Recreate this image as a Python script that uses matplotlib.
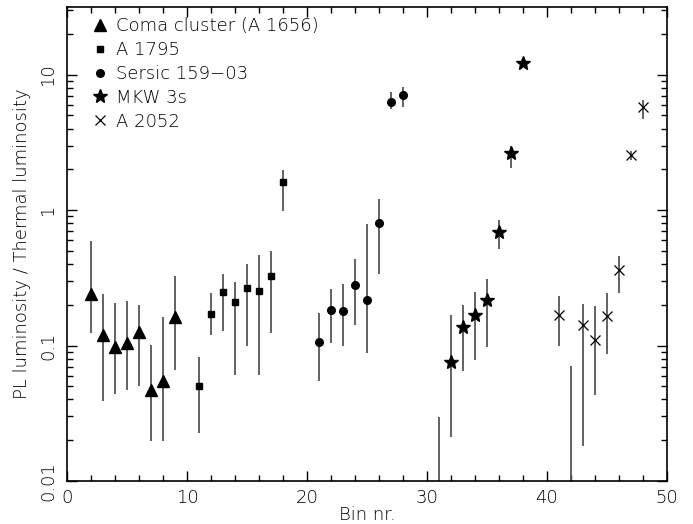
import numpy as np
import matplotlib
matplotlib.use("Agg")
import matplotlib.pyplot as plt
from matplotlib.lines import Line2D
from matplotlib.ticker import LogLocator, FixedLocator, NullFormatter, MultipleLocator

plt.rcParams['font.family'] = ['DejaVu Sans']
plt.rcParams['font.weight'] = 'light'
plt.rcParams['axes.labelweight'] = 'light'

# ---- data ----
coma_bin = [2, 3, 4, 5, 6, 7, 8, 9]
coma_val = [0.241, 0.119, 0.097, 0.105, 0.126, 0.047, 0.055, 0.162]
coma_hi  = [0.593, 0.241, 0.206, 0.213, 0.198, 0.1005, 0.162, 0.324]
coma_lo  = [0.123, 0.039, 0.044, 0.047, 0.050, 0.0198, 0.0198, 0.066]

a1795_bin = [11, 12, 13, 14, 15, 16, 17, 18]
a1795_val = [0.050, 0.172, 0.250, 0.211, 0.267, 0.255, 0.328, 1.62]
a1795_hi  = [0.083, 0.244, 0.336, 0.296, 0.403, 0.467, 0.500, 1.98]
a1795_lo  = [0.0226, 0.119, 0.129, 0.061, 0.100, 0.061, 0.124, 0.99]

sersic_bin = [21, 22, 23, 24, 25, 26, 27, 28]
sersic_val = [0.107, 0.182, 0.179, 0.278, 0.216, 0.80, 6.28, 7.11]
sersic_hi  = [0.173, 0.263, 0.283, 0.434, 0.796, 1.21, 7.45, 8.10]
sersic_lo  = [0.0545, 0.104, 0.0995, 0.142, 0.0877, 0.34, 5.6, 5.77]

mkw_bin = [31, 32, 33, 34, 35, 36, 37, 38]
mkw_val = [0.004, 0.0753, 0.138, 0.167, 0.218, 0.69, 2.66, 12.2]
mkw_hi  = [0.0298, 0.167, 0.198, 0.248, 0.312, 0.84, 3.0, 13.0]
mkw_lo  = [0.001, 0.021, 0.065, 0.078, 0.097, 0.52, 2.04, 11.4]

a2052_bin = [41, 42, 43, 44, 45, 46, 47, 48]
a2052_val = [0.169, 0.004, 0.143, 0.110, 0.165, 0.36, 2.55, 5.77]
a2052_hi  = [0.231, 0.0703, 0.204, 0.195, 0.245, 0.46, 2.75, 6.53]
a2052_lo  = [0.100, 0.001, 0.018, 0.043, 0.086, 0.244, 2.35, 4.70]

labels = ["Coma cluster (A 1656)", "A 1795", "Sersic 159\u221203", "MKW 3s", "A 2052"]
x_ticklabels = ["0", "10", "20", "30", "40", "50"]
y_ticklabels = ["0.01", "0.1", "1", "10"]

FS = 13
TXT = 'black'

fig = plt.figure(figsize=(6.93, 5.24), dpi=100)
ax = fig.add_axes([67/693, 43/524, 600/693, 474/524])

series = [
    (coma_bin, coma_val, coma_hi, coma_lo, dict(marker='^', ms=8.5, mfc='black', mec='black')),
    (a1795_bin, a1795_val, a1795_hi, a1795_lo, dict(marker='s', ms=5.0, mfc='black', mec='black')),
    (sersic_bin, sersic_val, sersic_hi, sersic_lo, dict(marker='o', ms=5.5, mfc='black', mec='black')),
    (mkw_bin, mkw_val, mkw_hi, mkw_lo, dict(marker='*', ms=10.5, mfc='black', mec='black')),
    (a2052_bin, a2052_val, a2052_hi, a2052_lo, dict(marker='x', ms=7, mfc='black', mec='black', mew=0.9)),
]

ecol = '#555555'
for b, v, hi, lo, st in series:
    v = np.array(v); hi = np.array(hi); lo = np.array(lo)
    ax.errorbar(b, v, yerr=[v - lo, hi - v], fmt='none', ecolor=ecol, elinewidth=1.3, capsize=0, zorder=2)
    ax.plot(b, v, linestyle='none', zorder=3, **st)

ax.set_yscale('log')
ax.set_xlim(0, 50)
ax.set_ylim(0.01, 10**1.5)

ax.xaxis.set_major_locator(FixedLocator([0, 10, 20, 30, 40, 50]))
ax.set_xticklabels(x_ticklabels)
ax.xaxis.set_minor_locator(MultipleLocator(2))
ax.yaxis.set_major_locator(FixedLocator([0.01, 0.1, 1, 10]))
ax.set_yticklabels(y_ticklabels, rotation=90, va='center')
ax.yaxis.set_minor_locator(LogLocator(base=10, subs=np.arange(2, 10), numticks=20))
ax.yaxis.set_minor_formatter(NullFormatter())

ax.tick_params(which='both', direction='in', top=True, right=True, width=1.0, color='black',
               labelsize=FS, labelcolor=TXT)
ax.tick_params(which='major', length=7)
ax.tick_params(which='minor', length=4)
ax.tick_params(axis='x', pad=6)
ax.tick_params(axis='y', pad=7)
for s in ax.spines.values():
    s.set_linewidth(1.2)

ax.set_xlabel("Bin nr.", fontsize=FS, labelpad=-1, color=TXT, fontweight='light')
ax.set_ylabel("PL luminosity / Thermal luminosity", fontsize=FS, labelpad=6, color=TXT, fontweight='light')

handles = [Line2D([], [], linestyle='none', **st) for *_, st in series]
ax.legend(handles, labels, loc='upper left', frameon=False, fontsize=FS, labelcolor=TXT,
          handlelength=0.8, handletextpad=0.5, labelspacing=0.33, borderpad=0.55,
          borderaxespad=0.0, bbox_to_anchor=(16/600, 1.0))

fig.savefig("out.png", dpi=100)
